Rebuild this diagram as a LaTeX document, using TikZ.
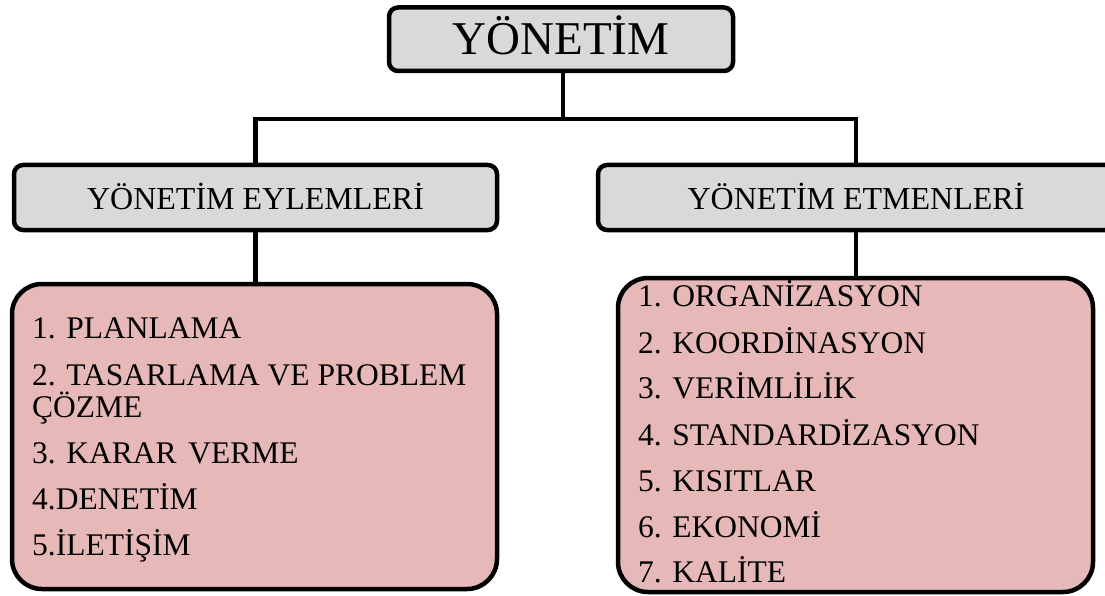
\documentclass[tikz,border=0pt]{standalone}
\usepackage{fontspec}
\setmainfont{Liberation Serif}
\definecolor{boxgrey}{HTML}{D9D9D9}
\definecolor{listpink}{HTML}{E6B8B7}

\begin{document}
\begin{tikzpicture}[x=1pt,y=-1pt,
  frame/.style={draw=black, line width=4.5pt, inner sep=0pt, outer sep=0pt},
  headbox/.style={frame, fill=boxgrey, rounded corners=9pt},
  listbox/.style={frame, fill=listpink, rounded corners=30pt},
  bigfont/.style={font=\fontsize{47}{56}\selectfont},
  midfont/.style={font=\fontsize{32}{38}\selectfont},
  listfont/.style={font=\fontsize{31.5}{37}\selectfont},
  item/.style={listfont, anchor=base west, inner sep=0pt},
  link/.style={line width=4.5pt}]
\useasboundingbox (0,0) rectangle (1105,596);
\clip (0,0) rectangle (1105,596);

% junction of the upper connectors
\coordinate (hub) at (563,119);

% boxes
\node[headbox, bigfont, minimum width=344pt, minimum height=63.5pt,
      text height=31.5pt, text depth=0pt] (root) at (561,39.25) {YÖNETİM};
\node[headbox, midfont, minimum width=483pt, minimum height=65pt,
      text height=23pt, text depth=0pt] (acts) at (255.5,197.5) {YÖNETİM EYLEMLERİ};
\node[headbox, midfont, minimum width=516pt, minimum height=65pt,
      text height=23pt, text depth=0pt] (factors) at (856,197.5) {YÖNETİM ETMENLERİ};
\node[listbox, minimum width=485pt, minimum height=305pt] (actlist) at (254.5,436.5) {};
\node[listbox, minimum width=475pt, minimum height=314pt] (factlist) at (855.5,435) {};

% connectors
\draw[link] (root.south -| hub) -- (hub);
\draw[link] (acts.north) |- (hub) -| (factors.north);
\draw[link] (acts.south) -- (acts.south |- actlist.north);
\draw[link] (factors.south) -- (factors.south |- factlist.north);

% management activities
\node[item] (a1) at (32,338) {1. PLANLAMA};
\node[item] (a2) at (32,385) {2. TASARLAMA VE PROBLEM};
\node[item] (a2b) at (32,417) {ÇÖZME};
\node[item] (a3) at (32,463) {3. KARAR \hspace{4pt}VERME};
\node[item] (a4) at (32,509) {4.DENETİM};
\node[item] (a5) at (32,555) {5.İLETİŞİM};

% management factors
\node[item] (f1) at (638,306) {1. ORGANİZASYON};
\node[item] (f2) at (638,353) {2. KOORDİNASYON};
\node[item] (f3) at (638,398) {3. VERİMLİLİK};
\node[item] (f4) at (638,445) {4. STANDARDİZASYON};
\node[item] (f5) at (638,491) {5. KISITLAR};
\node[item] (f6) at (638,537) {6. EKONOMİ};
\node[item] (f7) at (638,582) {7. KALİTE};
\end{tikzpicture}
\end{document}
